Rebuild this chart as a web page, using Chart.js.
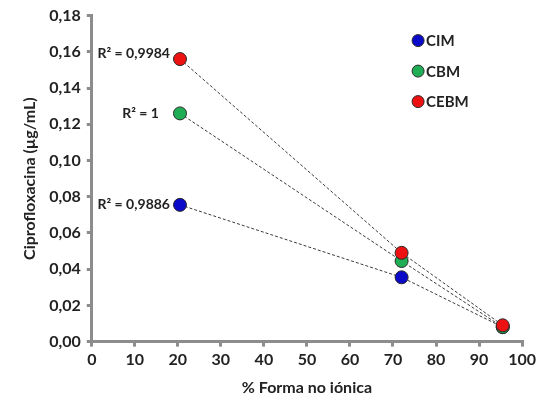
<!DOCTYPE html>
<html>
<head>
<meta charset="utf-8">
<script src="https://cdn.jsdelivr.net/npm/chart.js@4"></script>
<style>
  html, body { margin: 0; padding: 0; background: #fff; }
  #wrap { width: 540px; height: 401px; }
</style>
</head>
<body>
<div id="wrap"><canvas id="chart"></canvas></div>
<script>
const xValues = [20.5, 72, 95.5];
const cimValues = [0.0755, 0.0355, 0.008];
const cbmValues = [0.126, 0.0445, 0.008];
const cebmValues = [0.156, 0.049, 0.009];
const seriesNames = ['CIM', 'CBM', 'CEBM'];
const seriesColors = ['#0a0ac8', '#1fae55', '#ee1111'];
const r2Labels = ['R² = 0,9886', 'R² = 1', 'R² = 0,9984'];

const FONT = 'Lato, "Open Sans", sans-serif';
const AXIS = '#8c8c8c';

const allValues = [cimValues, cbmValues, cebmValues];
const toPoints = vals => xValues.map((x, i) => ({ x: x, y: vals[i] }));

const datasets = [];
// dashed connecting lines, drawn underneath
allValues.forEach((vals, i) => {
  datasets.push({
    label: seriesNames[i] + ' line',
    data: toPoints(vals),
    showLine: true,
    borderColor: '#3a3a3a',
    borderWidth: 1,
    borderDash: [3, 2],
    pointRadius: 0,
    order: 10
  });
});
// markers; CEBM gets the lowest order so it is drawn on top
allValues.forEach((vals, i) => {
  datasets.push({
    label: seriesNames[i],
    data: toPoints(vals),
    showLine: false,
    backgroundColor: seriesColors[i],
    borderColor: '#2a2a2a',
    borderWidth: 1,
    pointRadius: 6.5,
    order: 3 - i
  });
});

const annotations = {
  id: 'annotations',
  afterDatasetsDraw(chart) {
    const ctx = chart.ctx;
    const xs = chart.scales.x, ys = chart.scales.y;
    ctx.save();
    ctx.font = 'bold 14px ' + FONT;
    ctx.fillStyle = '#222';
    ctx.textBaseline = 'middle';
    ctx.textAlign = 'right';
    const dy = [0, 0, -6];
    allValues.forEach((vals, i) => {
      const px = xs.getPixelForValue(xValues[0]);
      const py = ys.getPixelForValue(vals[0]);
      const gap = i === 1 ? 21 : 10;
      ctx.fillText(r2Labels[i], px - gap, py + dy[i]);
    });
    // legend
    const lx = chart.chartArea.right - 104;
    ctx.textAlign = 'left';
    ctx.font = 'bold 15px ' + FONT;
    seriesNames.forEach((name, i) => {
      const ly = chart.chartArea.top + 25 + i * 30.5;
      ctx.beginPath();
      ctx.arc(lx, ly, 6, 0, Math.PI * 2);
      ctx.fillStyle = seriesColors[i];
      ctx.fill();
      ctx.lineWidth = 1;
      ctx.strokeStyle = '#2a2a2a';
      ctx.stroke();
      ctx.fillStyle = '#222';
      ctx.fillText(name, lx + 8, ly + 1);
    });
    ctx.restore();
  }
};

new Chart(document.getElementById('chart'), {
  type: 'scatter',
  data: { datasets: datasets },
  plugins: [annotations],
  options: {
    responsive: true,
    maintainAspectRatio: false,
    animation: false,
    layout: { padding: { top: 12, right: 3, left: 16, bottom: 0 } },
    plugins: { legend: { display: false }, tooltip: { enabled: false } },
    scales: {
      x: {
        type: 'linear',
        min: 0, max: 100,
        border: { color: AXIS, width: 3 },
        grid: { display: true, drawOnChartArea: false, drawTicks: true, tickLength: 5, color: AXIS, lineWidth: 3 },
        ticks: { stepSize: 10, color: '#222', font: { family: FONT, size: 16, weight: 'bold' }, padding: 4 },
        title: { display: true, text: '% Forma no iónica', color: '#222', font: { family: FONT, size: 16, weight: 'bold' }, padding: { top: 4 } }
      },
      y: {
        type: 'linear',
        min: 0, max: 0.18,
        border: { color: AXIS, width: 3 },
        grid: { display: true, drawOnChartArea: false, drawTicks: true, tickLength: 5, color: AXIS, lineWidth: 3 },
        ticks: {
          stepSize: 0.02,
          color: '#222',
          font: { family: FONT, size: 16, weight: 'bold' },
          padding: 6,
          callback: v => v.toFixed(2).replace('.', ',')
        },
        title: { display: true, text: 'Ciprofloxacina (µg/mL)', color: '#222', font: { family: FONT, size: 16, weight: 'bold' }, padding: { bottom: 4 } }
      }
    }
  }
});
</script>
</body>
</html>
